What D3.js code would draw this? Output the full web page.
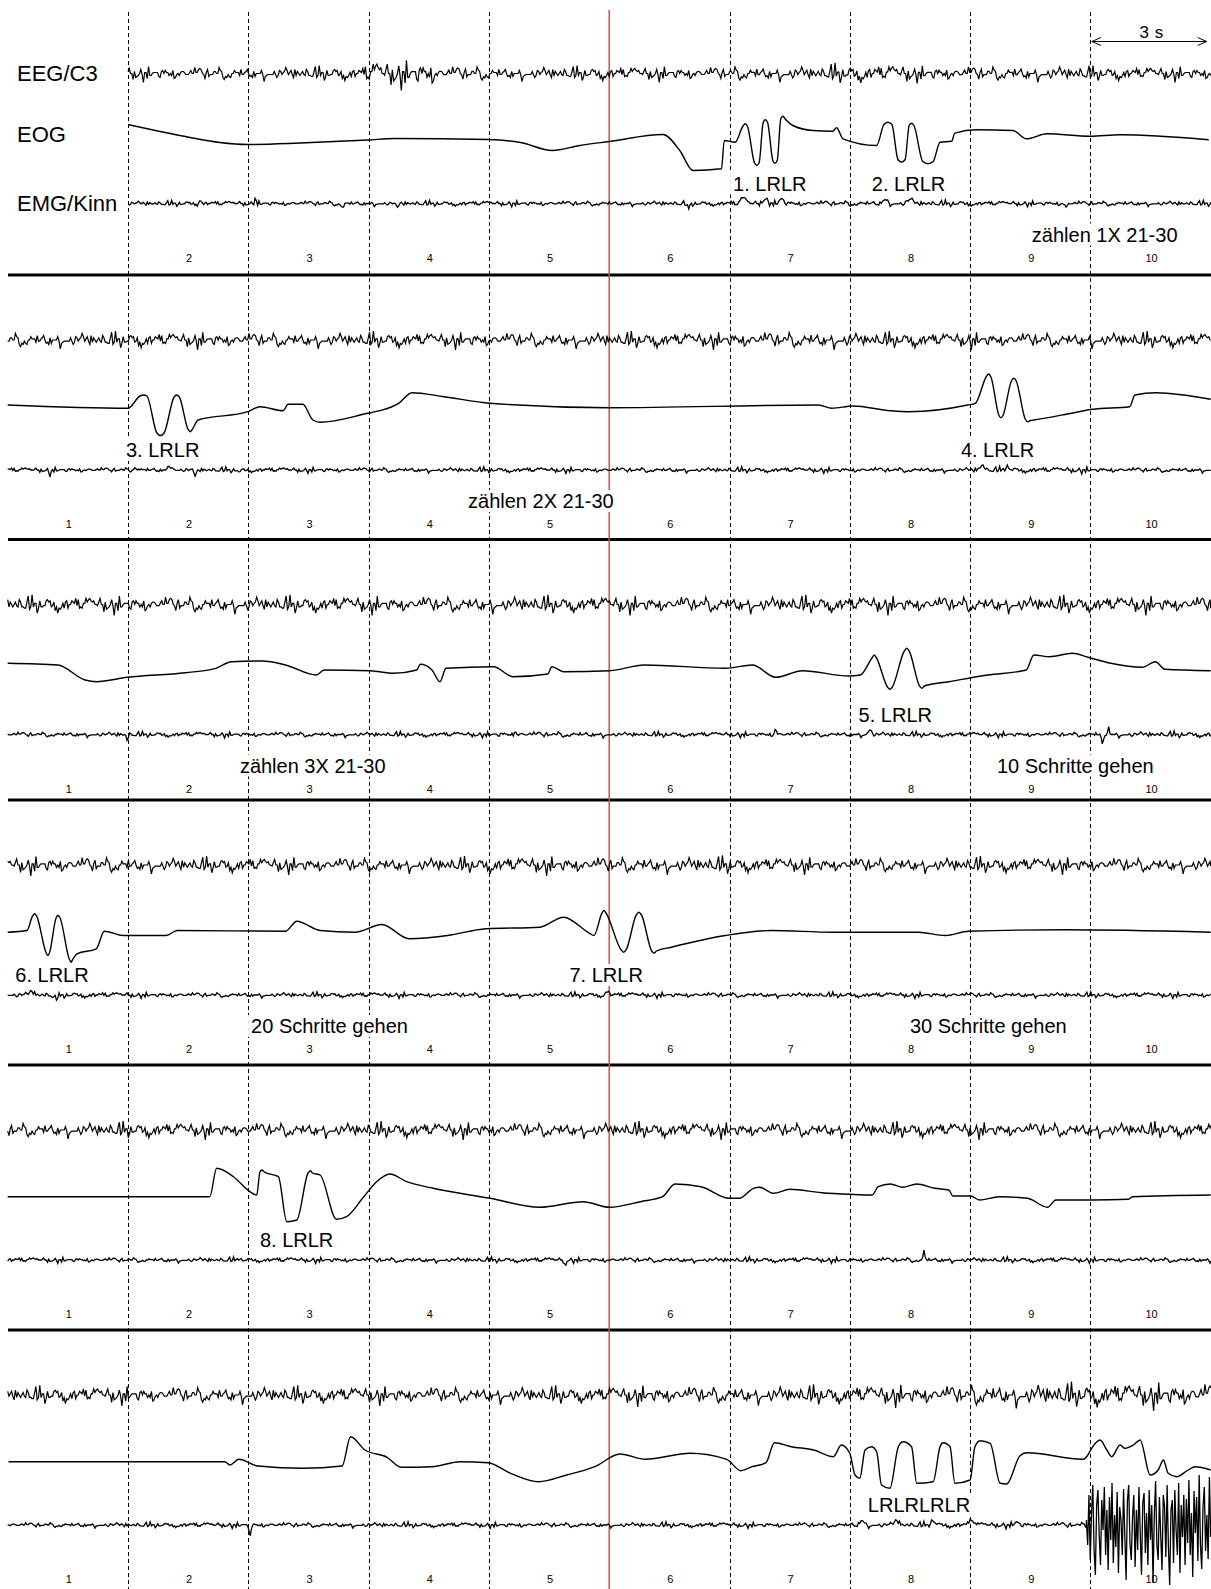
<!DOCTYPE html>
<html>
<head>
<meta charset="utf-8">
<script src="https://cdn.jsdelivr.net/npm/d3@7"></script>
<style>
  body { margin: 0; background: #fff; }
  text { font-family: "Liberation Sans", Arial, sans-serif; fill: #000; }
</style>
</head>
<body>
<svg id="chart" width="1211" height="1589"></svg>
<script>
// ---- data ----
const panelTops = [8.5, 275, 539.5, 800, 1065, 1330];
const panelStart = [3, 0, 0, 0, 0, 0];          // seconds, first panel begins in column 2
const channelNames = ["EEG/C3", "EOG", "EMG/Kinn"];
const columnLabels = ["1", "2", "3", "4", "5", "6", "7", "8", "9", "10"];
const gridTimes = [3, 6, 9, 12, 18, 21, 24, 27];
const markerTime = 15;

// EEG amplitude per 3 s column, per panel
const eegLevel = [
  [0, 9, 9, 10, 9, 9, 10, 10, 10, 9],
  [10, 10, 10, 10, 10, 10, 11, 10, 10, 10],
  [11, 11, 11, 11, 11, 11, 11, 11, 11, 11],
  [11, 10, 10, 10, 11, 11, 10, 10, 10, 10],
  [10, 10, 10, 10, 10, 10, 10, 10, 10, 10],
  [11, 11, 11, 11, 11, 12, 12, 13, 15, 16]
];
// [panel, from s, to s, gain]
const eegBursts = [[0, 8.9, 10.7, 1.7], [0, 20.5, 22.5, 1.2]];

// EMG amplitude per column
const emgLevel = [
  [0, 3.5, 3.5, 3.5, 3.5, 3.5, 4, 4, 3.5, 3.5],
  [3.5, 3.5, 3.5, 3.5, 3.5, 3.5, 3.5, 3.5, 4, 3.5],
  [3.5, 3.5, 3.5, 3.5, 4, 3.5, 3.5, 3.5, 3.5, 4],
  [4, 3.5, 3.5, 3.5, 3.5, 3.5, 3.5, 3.5, 3.5, 3.5],
  [3.5, 3.5, 3.5, 3.5, 3.5, 3.5, 3.5, 3.5, 3.5, 3.5],
  [3.5, 3.5, 3.5, 3.5, 3.5, 3.5, 3.5, 4, 4, 4]
];
// [panel, s, amplitude, half width s]
const emgEvents = [
  [0, 4.8, 5, 0.06], [0, 6.17, 5, 0.06], [0, 8.36, -5, 0.06], [0, 9.71, -6, 0.06],
  [0, 16.97, -6, 0.06], [0, 18.34, 5, 0.15], [0, 18.89, 5, 0.15], [0, 19.3, 5, 0.12],
  [0, 21.88, 4, 0.15], [0, 22.5, 4, 0.15], [0, 26.4, -5, 0.06],
  [1, 1.05, -4, 0.06], [1, 3.18, 3, 0.12], [1, 4.06, 5, 0.12], [1, 4.67, -6, 0.08],
  [1, 5.79, -3, 0.06], [1, 24.3, 5, 0.12], [1, 24.92, 4, 0.12],
  [2, 2.98, -6, 0.05], [2, 12.65, 5, 0.05], [2, 19.15, 7, 0.05], [2, 21.5, 5, 0.1],
  [2, 27.3, -12, 0.05], [2, 27.45, 8, 0.05],
  [3, 0.6, 4, 0.12], [3, 1.2, -4, 0.12], [3, 14.95, 4, 0.1],
  [4, 5.77, 3, 0.06], [4, 13.9, -6, 0.05], [4, 22.85, 10, 0.04],
  [5, 6.05, -12, 0.05], [5, 21.3, 5, 0.12], [5, 22.17, 5, 0.12], [5, 23.07, 5, 0.12],
  [5, 24.04, 6, 0.12], [5, 25.16, 3, 0.12]
];
// movement artefact on the chin EMG, last panel, from 26.9 s to the end
const artifactStart = 26.9;
const emgArtifact = [5,-20,30,-35,12,40,-25,-50,20,35,-10,-40,25,-5,38,-30,15,-45,28,-15,42,-38,10,-22,33,-48,18,5,-30,36,-12,-55,24,40,-18,-35,8,30,-42,15,-25,38,-8,-50,22,32,-28,12,-40,35,-15,20,-58,10,44,-20,-35,28,-10,-45,30,18,-32,40,-22,-60,15,25,-38,35,-5,-30,42,-48,20,-12,30,-40,26,-18,45,-30,12,-52,34,-8,28,-36,50,-20,-44,18,38,-26,10,-34,48,-12];

// EOG traces: [s, deflection]
const eog1 = [[3.0,15],[3.8,8],[4.55,2],[5.29,-3],[5.99,-5],[7.29,-3.5],[8.98,-0.5],[9.66,1],[12.0,0],[12.79,-3],[13.58,-11],[14.27,-6],[15.0,-2],[16.34,5],[16.76,-11],[17.09,-31],[17.8,-29.3],[17.87,-1],[18.14,-2.7],[18.33,13],[18.39,15.7],[18.45,13],[18.62,-23],[18.68,-26],[18.74,-23],[18.84,17],[18.89,19.7],[18.95,17],[19.08,-21],[19.13,-23.7],[19.19,-21],[19.28,21],[19.33,23.3],[19.4,20],[19.58,14],[20.08,9],[20.58,8.3],[20.67,11.7],[20.83,0.7],[21.67,-6],[21.85,15],[21.95,17.3],[22.05,15],[22.2,-20],[22.29,-22.7],[22.38,-20],[22.48,14],[22.54,16.3],[22.6,14],[22.82,-22],[22.95,-24.3],[23.08,-22],[23.25,-2.7],[23.54,-1.7],[23.62,6.3],[24.16,9.7],[25.07,9],[25.41,0.7],[25.91,5.7],[26.99,3.3],[27.74,4.7],[29.95,-0.3]];
const eog2 = [[0.0,1],[3.0,-2.3],[3.3,10],[3.39,11],[3.47,10],[3.72,-27],[3.81,-29.5],[3.9,-27],[4.15,9],[4.21,11],[4.28,9],[4.5,-23.5],[4.55,-25.7],[4.6,-23.5],[4.75,-14],[5.99,-5.7],[6.29,-0.7],[6.87,-4.7],[6.99,1.7],[7.36,1.7],[7.61,-14],[7.79,-16.3],[8.98,-7.3],[9.28,-4.7],[9.75,2.7],[10.08,13.3],[10.88,9.3],[12.03,2.7],[14.98,-1.7],[20.22,1],[20.55,-2.3],[21.08,0],[22.01,-4.7],[22.48,-5.7],[23.94,1],[24.13,2.7],[24.4,29],[24.46,32],[24.52,29],[24.72,-9.5],[24.77,-11.7],[24.82,-9.5],[25.03,25],[25.09,27.7],[25.15,25],[25.38,-13.5],[25.44,-15.7],[25.5,-14.5],[25.59,-14],[26.59,-6.7],[27.05,-3.3],[27.98,-0.7],[28.11,11],[28.64,13.3],[30.0,6.7]];
const eog3 = [[0,7.2],[1.25,5.5],[1.93,-9.5],[2.21,-11.2],[2.98,-6.8],[4.43,-2.2],[5.19,2.2],[5.58,8.8],[6.35,9.5],[6.93,5.5],[7.7,-4.5],[7.89,0.5],[9.04,-0.2],[9.62,-2.8],[10.2,0.5],[10.29,6.2],[10.58,0.5],[10.78,-11.2],[10.93,2.2],[12.12,3.8],[12.6,-6.2],[13.47,-3.5],[13.57,3.8],[13.86,-1.2],[15.01,-0.2],[15.88,5.5],[17.9,2.2],[18.57,5.5],[19.15,-6.8],[19.82,-0.2],[20.98,-5.5],[21.26,-4.5],[21.56,13],[21.61,15.5],[21.66,13],[21.94,-16.5],[22.0,-18.8],[22.06,-16.5],[22.36,19.5],[22.42,22.2],[22.48,19.5],[22.74,-15.5],[22.8,-17.8],[22.86,-15.5],[23.47,-11.2],[24.44,-4.5],[25.4,0.5],[25.59,15.5],[25.98,13.8],[26.55,17.2],[26.94,13.2],[27.51,7.2],[28.29,3.2],[28.62,8.8],[28.86,1.2],[30.0,-0.2]];
const eog4 = [[0,-1.2],[0.48,0.5],[0.62,15],[0.67,17.2],[0.72,15],[0.96,-22],[1.0,-24.5],[1.04,-22],[1.21,13.5],[1.25,15.5],[1.3,13.5],[1.54,-28.5],[1.58,-31.2],[1.62,-28.5],[1.73,-22.8],[2.21,-17.8],[2.41,-0.2],[2.89,-4.5],[3.95,-4.5],[4.23,0.5],[6.93,-0.2],[7.21,9.8],[7.79,0.5],[8.66,-1.2],[9.33,6.5],[10.01,-7.8],[10.97,-4.5],[11.93,2.2],[13.27,3.8],[13.86,13.8],[14.53,-2.8],[14.62,-4.5],[14.82,18],[14.87,20.5],[14.92,18],[15.3,-19],[15.36,-21.2],[15.42,-19],[15.68,16.5],[15.74,18.8],[15.8,16.5],[16.06,-20],[16.12,-22.2],[16.18,-20],[16.55,-16.2],[17.9,-4.5],[19.05,0.5],[20.59,-1.2],[22.71,-1.2],[23.38,-4.5],[23.96,-0.2],[26.36,1.2],[30.0,-1.2]];
const eog5 = [[0,-0.7],[5.04,-0.7],[5.21,27.7],[5.63,19.3],[6.04,4.3],[6.21,1],[6.29,24],[6.34,26],[6.4,24],[6.75,19.3],[6.96,-25.7],[7.21,-24],[7.49,23],[7.55,25.3],[7.6,23],[7.79,21],[8.2,-23.3],[8.45,-20.7],[8.87,-1.3],[9.2,14.3],[9.53,22],[9.95,14.3],[10.61,7.7],[12.03,-2.3],[13.27,-11.3],[14.35,-5.7],[15.01,-11.3],[15.78,-5.7],[16.33,-0.7],[16.64,12],[17.29,9.3],[17.99,-2.3],[18.24,-2.3],[18.6,7.7],[18.75,8.7],[19.1,2.7],[19.5,6.7],[20.3,3.3],[21.01,1.7],[21.56,1],[21.71,9.3],[22.01,12],[22.32,8.7],[22.67,12],[23.12,7.7],[23.47,6],[23.57,0],[24.02,0],[24.23,-4],[24.73,-0.7],[25.43,-2.3],[25.93,-11.3],[26.14,-4],[27.04,-4],[27.95,-3.3],[28.05,-0.7],[30.0,1]];
const eog6 = [[0.02,-0.7],[5.41,-0.7],[5.54,-4],[5.76,1.7],[6.24,-5],[7.36,-7.3],[8.34,-5],[8.55,24.3],[8.91,11],[9.46,3.7],[9.81,-6.3],[10.58,-5.7],[11.28,-0.7],[11.98,-1.7],[12.54,-12.3],[13.24,-20.7],[13.94,-14],[14.64,-5.7],[15.27,7],[15.9,1.7],[17.02,7.7],[17.93,1.7],[18.28,-9.7],[18.56,-5.7],[18.91,-1.7],[19.12,18.3],[19.54,14.3],[20.1,11],[20.59,4.3],[20.79,16],[21.0,7.7],[21.13,-14],[21.25,-17.3],[21.38,11],[21.54,14.3],[21.67,9.3],[21.79,-24],[22.0,-27.3],[22.21,14.3],[22.33,19.3],[22.54,14.3],[22.67,-22.3],[23.08,-20.7],[23.25,14.3],[23.33,18.3],[23.5,14.3],[23.62,-22.3],[24.0,-19],[24.12,14.3],[24.25,20.3],[24.5,17.7],[24.75,-22.3],[24.91,-23],[25.24,5],[25.41,8.3],[26.82,1.7],[26.92,5],[27.03,12.7],[27.24,21],[27.41,11],[27.53,4.3],[27.74,16],[27.86,12.7],[28.07,16],[28.24,21],[28.49,-14],[28.69,-9],[28.82,1],[28.94,-12.3],[29.15,-15.7],[29.44,-9],[29.61,-5.7],[30.0,-9]];
const eogTraces = [eog1, eog2, eog3, eog4, eog5, eog6];

// annotations: [panel, start s, text]
const lrlrLabels = [
  [0, 18.09, "1. LRLR"], [0, 21.55, "2. LRLR"], [1, 2.95, "3. LRLR"], [1, 23.77, "4. LRLR"],
  [2, 21.22, "5. LRLR"], [3, 0.19, "6. LRLR"], [3, 14.01, "7. LRLR"], [4, 6.29, "8. LRLR"],
  [5, 21.45, "LRLRLRLR"]
];
const taskLabels = [
  [0, 25.54, "zählen 1X 21-30"], [1, 11.48, "zählen 2X 21-30"], [2, 5.79, "zählen 3X 21-30"],
  [2, 24.67, "10 Schritte gehen"], [3, 6.07, "20 Schritte gehen"], [3, 22.5, "30 Schritte gehen"]
];

// hand-typed sample table for the EEG / EMG background activity
const noise = [2,-1,3,-3,0,1,-2,5,-4,1,2,-1,-3,4,0,-2,1,7,-5,2,-1,0,3,-2,-4,1,3,-1,-6,2,0,-2,4,-3,1,2,-1,-2,8,-3,0,2,-4,1,3,-2,-1,0,4,-3,2,-5,1,-1,3,0,-2,6,-4,1,-1,2,-3,0,3,-1,-7,2,1,-2,4,-1,0,-3,2,5,-4,-1,1,-2,3,0,-1,2,-9,3,1,-2,0,4,-3,1,-1,2,-2,6,-3,0,1,-4,2,-1,3,-2,0,-5,4,1,-1,2,-3,0,7,-2,-1,3,-4,1,0,-2,2,-1,4,-6,1,3,-2,0,-1,2,-3,5,-1,0,-2,1,3,-4,2,-8,1,0,3,-2,-1,4,-3,1,2,0,-1,-3,5,-2,1,-1,0,2,-4,3,-1,1,-2,6,-5,0,2,-1,-3,4,1,-2,0,3,-1,-4,2,1,-7,3,0,-1,2,-2,4,-3,1,0,-1,3,-2,5,-4,1,-1,2,0,-3,4,-2,1];

// ---- layout ----
const W = 1211, H = 1589;
const rowOffset = { eeg: 65, eog: 131, emg: 195, lrlr: 182, task: 233, ticks: 253 };
const dt = 0.032;

const svg = d3.select("#chart");
const x = d3.scaleLinear().domain([0, 30]).range([7.7, 1210.7]);

function yRow(center) {
  return d3.scaleLinear().domain([-100, 100]).range([center + 100, center - 100]);
}

const gcd = (a, b) => b ? gcd(b, a % b) : a;
const stride = [7, 11, 13, 17].find(s => gcd(s, noise.length) === 1);

function activity(p, ch, level, extra, tEnd) {
  const t0 = panelStart[p];
  const n = Math.round((tEnd - t0) / dt);
  const pts = [];
  for (let i = 0; i <= n; i++) {
    const t = Math.min(tEnd, t0 + i * dt);
    const col = Math.min(9, Math.floor(t / 3));
    const k = (i * stride + p * 53 + ch * 101) % noise.length;
    pts.push([t, extra(t, level[p][col] * noise[k] / 9)]);
  }
  return pts;
}

// separators
svg.append("g").selectAll("line")
  .data(panelTops.slice(1))
  .join("line")
  .attr("x1", 8).attr("x2", W)
  .attr("y1", d => d).attr("y2", d => d)
  .attr("stroke", "#000").attr("stroke-width", 3);

// time grid
svg.append("g").selectAll("line")
  .data(gridTimes)
  .join("line")
  .attr("x1", d => Math.round(x(d)) + 0.5).attr("x2", d => Math.round(x(d)) + 0.5)
  .attr("y1", 12).attr("y2", H)
  .attr("stroke", "#000").attr("stroke-width", 1)
  .attr("stroke-dasharray", "4,3");

svg.append("line")
  .attr("x1", x(markerTime)).attr("x2", x(markerTime))
  .attr("y1", 10).attr("y2", H)
  .attr("stroke", "#e8473b").attr("stroke-width", 1.5);

const boxLayer = svg.append("g");
const traceLayer = svg.append("g");
const textLayer = svg.append("g").style("opacity", 0.999);

panelTops.forEach((top, p) => {
  const yEeg = yRow(top + rowOffset.eeg);
  const yEog = yRow(top + rowOffset.eog);
  const yEmg = yRow(top + rowOffset.emg);

  const eeg = activity(p, 0, eegLevel, (t, v) => {
    let g = 1;
    eegBursts.forEach(b => { if (b[0] === p && t >= b[1] && t <= b[2]) g = b[3]; });
    return v * g;
  }, 30);
  traceLayer.append("path")
    .attr("d", d3.line().x(d => x(d[0])).y(d => yEeg(d[1]))(eeg))
    .attr("fill", "none").attr("stroke", "#000").attr("stroke-width", 1.2);

  traceLayer.append("path")
    .attr("d", d3.line().curve(d3.curveMonotoneX).x(d => x(d[0])).y(d => yEog(d[1]))(eogTraces[p]))
    .attr("fill", "none").attr("stroke", "#000").attr("stroke-width", 1.4);

  const evs = emgEvents.filter(e => e[0] === p);
  const last = p === panelTops.length - 1;
  let emg = activity(p, 2, emgLevel, (t, v) => {
    let s = v;
    evs.forEach(e => {
      const w = 1 - Math.abs(t - e[1]) / e[3];
      if (w > 0) s += e[2] * w;
    });
    return s;
  }, last ? artifactStart : 30);
  if (last) {
    const step = (30 - artifactStart) / (emgArtifact.length - 1);
    emg = emg.concat(emgArtifact.map((v, i) => [artifactStart + i * step, v]));
  }
  traceLayer.append("path")
    .attr("d", d3.line().x(d => x(d[0])).y(d => yEmg(d[1]))(emg))
    .attr("fill", "none").attr("stroke", "#000").attr("stroke-width", 1.3);

  // column numbers
  textLayer.append("g").selectAll("text")
    .data(columnLabels.filter((c, i) => i * 3 >= panelStart[p]))
    .join("text")
    .attr("x", d => x((+d - 0.5) * 3) + 1)
    .attr("y", top + rowOffset.ticks)
    .attr("text-anchor", "middle")
    .attr("fill", "#000")
    .style("font-size", "11px")
    .text(d => d);
});

// channel names
channelNames.forEach((name, i) => {
  const off = [rowOffset.eeg, rowOffset.eog - 5, rowOffset.emg][i];
  textLayer.append("text")
    .attr("x", 17)
    .attr("y", panelTops[0] + off)
    .attr("dominant-baseline", "central")
    .style("font-size", "22px")
    .text(name);
});

function annotate(list, row) {
  list.forEach(a => {
    const t = textLayer.append("text")
      .attr("x", x(a[1]))
      .attr("y", panelTops[a[0]] + row)
      .style("font-size", "20px")
      .text(a[2]);
    const bb = t.node().getBBox();
    boxLayer.append("rect")
      .attr("x", bb.x - 3).attr("y", bb.y)
      .attr("width", bb.width + 6).attr("height", bb.height)
      .attr("fill", "#fff");
  });
}
annotate(lrlrLabels, rowOffset.lrlr);
annotate(taskLabels, rowOffset.task);

// 3 s scale bar
const bar = svg.append("g");
const bx0 = x(27) + 1.5, bx1 = x(30) - 4, by = 41.5;
bar.append("line").attr("x1", bx0).attr("x2", bx1).attr("y1", by).attr("y2", by)
  .attr("stroke", "#000").attr("stroke-width", 1);
bar.append("path")
  .attr("d", `M${bx0 + 9},${by - 4}L${bx0},${by}L${bx0 + 9},${by + 4}M${bx1 - 9},${by - 4}L${bx1},${by}L${bx1 - 9},${by + 4}`)
  .attr("fill", "none").attr("stroke", "#000").attr("stroke-width", 1);
bar.append("text")
  .attr("x", (bx0 + bx1) / 2 + 2).attr("y", 38)
  .attr("text-anchor", "middle")
  .style("font-size", "17px")
  .style("word-spacing", "1px")
  .text("3 s");
</script>
</body>
</html>
